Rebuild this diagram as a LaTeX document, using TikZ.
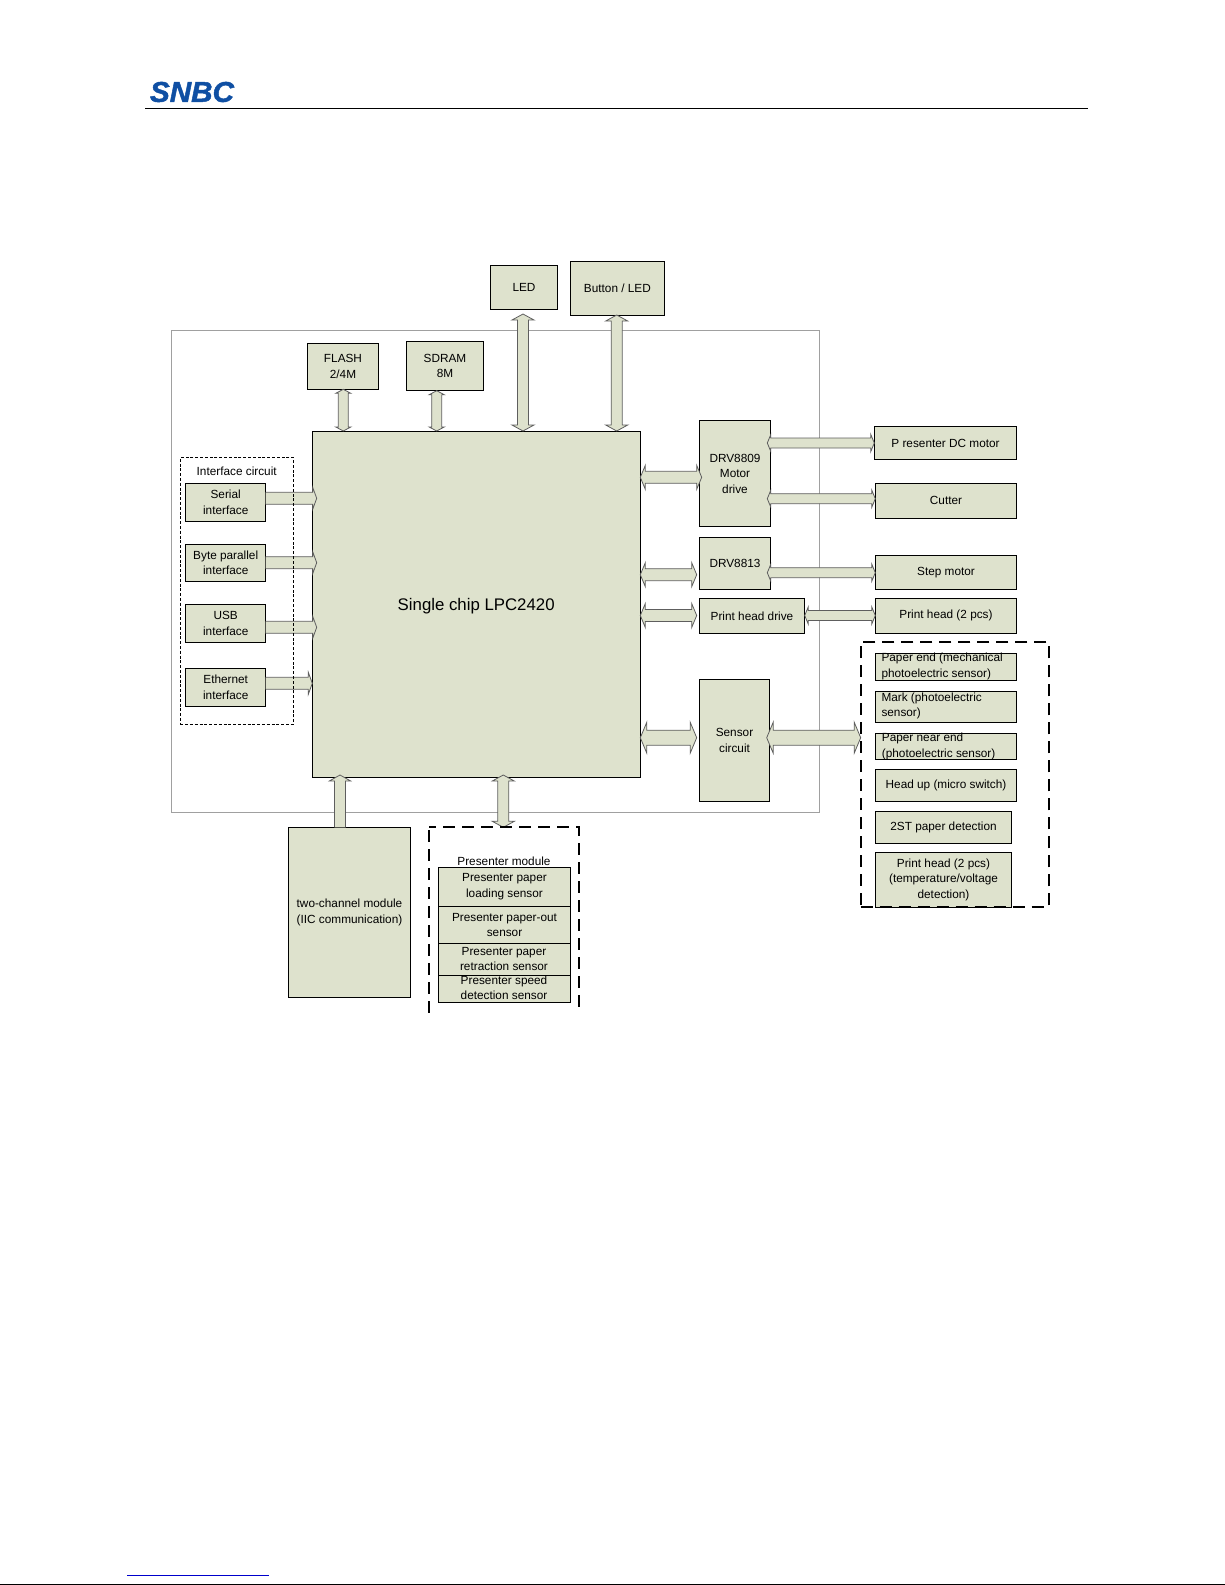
\documentclass[tikz,border=0pt]{standalone}
\usepackage{fontspec}
\usepackage{graphicx}
\setmainfont{Liberation Sans}
\newfontfamily\logofont[FakeBold=1.6]{Liberation Sans}
\usetikzlibrary{calc}
\definecolor{boxfill}{HTML}{DEE2CD}
\definecolor{logoblue}{HTML}{0F4FA3}
\definecolor{framegray}{HTML}{A0A0A0}
\definecolor{arrowline}{HTML}{5E5E5E}
\tikzset{
  x=1pt,y=-1pt,
  box/.style={draw=black,line width=1pt,fill=boxfill,inner sep=0pt,outer sep=0pt,align=center,
    font=\fontsize{11.8}{15.5}\selectfont},
  lbl/.style={inner sep=0pt,align=center,font=\fontsize{11.8}{15.5}\selectfont},
  lbll/.style={inner sep=0pt,align=left,anchor=west,font=\fontsize{11.8}{15.5}\selectfont},
  twohead/.style n args={3}{draw=arrowline,line width=0.8pt,fill=boxfill,line join=miter,
    to path={
      -- ($(\tikztostart)!#3!(\tikztotarget)!#2!90:(\tikztotarget)$)
      -- ($(\tikztostart)!#3!(\tikztotarget)!#1!90:(\tikztotarget)$)
      -- ($(\tikztotarget)!#3!(\tikztostart)!#1!-90:(\tikztostart)$)
      -- ($(\tikztotarget)!#3!(\tikztostart)!#2!-90:(\tikztostart)$)
      -- (\tikztotarget)
      -- ($(\tikztotarget)!#3!(\tikztostart)!#2!90:(\tikztostart)$)
      -- ($(\tikztotarget)!#3!(\tikztostart)!#1!90:(\tikztostart)$)
      -- ($(\tikztostart)!#3!(\tikztotarget)!#1!-90:(\tikztotarget)$)
      -- ($(\tikztostart)!#3!(\tikztotarget)!#2!-90:(\tikztotarget)$)
      -- cycle}},
  onehead/.style n args={3}{draw=arrowline,line width=0.8pt,fill=boxfill,line join=miter,
    to path={
      ($(\tikztostart)!#1!90:(\tikztotarget)$)
      -- ($(\tikztotarget)!#3!(\tikztostart)!#1!-90:(\tikztostart)$)
      -- ($(\tikztotarget)!#3!(\tikztostart)!#2!-90:(\tikztostart)$)
      -- (\tikztotarget)
      -- ($(\tikztotarget)!#3!(\tikztostart)!#2!90:(\tikztostart)$)
      -- ($(\tikztotarget)!#3!(\tikztostart)!#1!90:(\tikztostart)$)
      -- ($(\tikztostart)!#1!-90:(\tikztotarget)$)
      }},
  small/.style={twohead={5pt}{7.5pt}{4pt}},
  mid/.style={twohead={5.5pt}{11pt}{6pt}},
  horiz/.style={twohead={6pt}{12pt}{5pt}},
  wire/.style={twohead={5pt}{8.5pt}{3.5pt}},
  fat/.style={twohead={7.5pt}{15.5pt}{6.5pt}},
  iface/.style={onehead={6pt}{11pt}{4pt}},
  feed/.style={onehead={5.5pt}{10.7pt}{6pt}},
  heavydash/.style={draw=black,line width=2pt,dash pattern=on 12pt off 7pt},
  thindash/.style={draw=black,line width=0.8pt,dash pattern=on 3pt off 1.8pt},
}
\newcommand{\bx}[6]{%
  \pgfmathsetmacro{\bw}{#4-#2}\pgfmathsetmacro{\bh}{#5-#3}%
  \pgfmathsetmacro{\bcx}{(#4+#2)/2}\pgfmathsetmacro{\bcy}{(#5+#3)/2}%
  \node[box,minimum width=\bw pt,minimum height=\bh pt] (#1) at (\bcx,\bcy) {#6};}
\begin{document}
\begin{tikzpicture}
\useasboundingbox (0,0) rectangle (1225,1585);
% page furniture
\node[inner sep=0pt,text=logoblue] (logo) at (192,92) {\resizebox{84pt}{20pt}{\logofont\bfseries\itshape SNBC}};
\draw[black,line width=1pt] (145,108) coordinate (hl) -- (1088,108) coordinate (hr);
\draw[color={rgb,255:red,0;green,0;blue,204},line width=1pt] (127,1575) coordinate (bl) -- (269,1575) coordinate (br);
\draw[black,line width=1pt] (0,1584.5) coordinate (el) -- (1225,1584.5) coordinate (er);
% frame
\node[draw=framegray,line width=1pt,inner sep=0pt,minimum width=647.7pt,minimum height=481.6pt] (frame) at (495.15,571.5) {};
% boxes
\bx{chip}{312.3}{431}{640.3}{777.3}{}
\node[inner sep=0pt,font=\fontsize{16.8}{20}\selectfont] (chiplabel) at (476.2,606) {Single chip LPC2420};
\bx{led}{490.3}{265.3}{557.7}{309.3}{LED}
\bx{button}{570.3}{261}{664.5}{315}{Button / LED}
\bx{flash}{307.3}{343.3}{378.7}{389.3}{FLASH\\2/4M}
\bx{sdram}{406.3}{341.3}{483.7}{390.7}{SDRAM\\8M}
\bx{serial}{185.7}{483.3}{265.7}{521.3}{Serial\\interface}
\bx{byte}{185.7}{544.3}{265.7}{581.3}{Byte parallel\\interface}
\bx{usb}{185.7}{604.3}{265.7}{642.3}{USB\\interface}
\bx{ether}{185.7}{668.3}{265.7}{706.3}{Ethernet\\interface}
\bx{drvA}{699.3}{420.3}{770.7}{526.7}{DRV8809\\Motor\\drive}
\bx{drvB}{699.3}{537.3}{770.7}{589.7}{DRV8813}
\bx{phd}{699.3}{598.3}{804.7}{633.3}{Print head drive}
\bx{sensor}{699.3}{679.3}{769.7}{801.3}{Sensor\\circuit}
\bx{pdc}{874.3}{426.3}{1016.7}{459.7}{P resenter DC motor}
\bx{cutter}{875.3}{483.3}{1016.7}{518.3}{Cutter}
\bx{step}{875.3}{555.3}{1016.7}{589.7}{Step motor}
\bx{phead}{875.3}{598.3}{1016.7}{633.3}{Print head (2 pcs)}
\bx{pend}{875.3}{653.3}{1016.7}{680.3}{}
\bx{mark}{875.3}{691.3}{1016.7}{722.3}{}
\bx{near}{875.3}{733.3}{1016.7}{759.7}{}
\bx{headup}{875.3}{769.3}{1016.7}{801.3}{Head up (micro switch)}
\bx{st}{875.3}{811.7}{1011.7}{843.3}{2ST paper detection}
\bx{pht}{875.3}{852.7}{1011.7}{907}{Print head (2 pcs)\\(temperature/voltage\\detection)}
\bx{two}{288.3}{827.3}{410.7}{997.3}{two-channel module\\(IIC communication)}
\bx{pa}{438.3}{867.3}{570.7}{906.3}{Presenter paper\\loading sensor}
\bx{pb}{438.3}{906.3}{570.7}{943.3}{Presenter paper-out\\sensor}
\bx{pc}{438.3}{943.3}{570.7}{975.3}{}
\bx{pd}{438.3}{975.3}{570.7}{1002.3}{}
\node[lbll] (pendt) at (881.3,666.5) {Paper end (mechanical\\photoelectric sensor)};
\node[lbll] (markt) at (881.3,706) {Mark (photoelectric\\sensor)};
\node[lbll] (neart) at (881.7,746.3) {Paper near end\\(photoelectric sensor)};
\node[lbl] (pct) at (504,959) {Presenter paper\\retraction sensor};
\node[lbl] (pdt) at (504,987.7) {Presenter speed\\detection sensor};
\node[lbl] (ifl) at (236.7,471.7) {Interface circuit};
\node[lbl] (pml) at (504,861) {Presenter module};
% arrow rows
\coordinate (xflash) at (343.3,0);
\coordinate (xsdram) at (436.7,0);
\coordinate (xled) at (523,0);
\coordinate (xbtn) at (616.7,0);
\coordinate (xtwo) at (340,0);
\coordinate (xpm) at (503.3,0);
\coordinate (ya) at (0,477.3);
\coordinate (yb) at (0,443);
\coordinate (yc) at (0,498.7);
\coordinate (yd) at (0,574.7);
\coordinate (ye) at (0,572.7);
\coordinate (yf) at (0,615.5);
\coordinate (yg) at (0,737.7);
\coordinate (ys) at (0,498.3);
\coordinate (yp) at (0,562.7);
\coordinate (yu) at (0,627.3);
\coordinate (yt) at (0,683.3);
% arrows
\draw[small] (xflash |- flash.south) to (xflash |- chip.north);
\draw[small] (xsdram |- sdram.south) to (xsdram |- chip.north);
\coordinate (ledgap) at (xled |- 0,314);
\draw[mid] (ledgap) to (xled |- chip.north);
\draw[mid] (xbtn |- button.south) to (xbtn |- chip.north);
\draw[horiz] (chip.east |- ya) to ([xshift=2.4pt]drvA.west |- ya);
\draw[horiz] (chip.east |- yd) to ([xshift=-2.6pt]drvB.west |- yd);
\draw[horiz] (chip.east |- yf) to ([xshift=-2.6pt]phd.west |- yf);
\draw[wire] ([xshift=-3.4pt]drvA.east |- yb) to (pdc.west |- yb);
\draw[wire] ([xshift=-3.4pt]drvA.east |- yc) to (cutter.west |- yc);
\draw[wire] ([xshift=-3.4pt]drvB.east |- ye) to (step.west |- ye);
\draw[wire] (phd.east |- yf) to (phead.west |- yf);
\draw[fat] (chip.east |- yg) to ([xshift=-2.6pt]sensor.west |- yg);
\coordinate (bigleft) at (860.7,737.7);
\draw[fat] ([xshift=-3pt]sensor.east |- yg) to (bigleft);
\coordinate (sa) at (316.7,0);
\draw[iface] (serial.east |- ys) to (sa |- ys);
\draw[iface] (byte.east |- yp) to (sa |- yp);
\draw[iface] (usb.east |- yu) to (sa |- yu);
\draw[iface] (ether.east |- yt) to (chip.west |- yt);
\coordinate (chipbot) at (0,775);
\draw[feed] (xtwo |- two.north) to (xtwo |- chipbot);
\draw[mid] (xpm |- chipbot) to (xpm |- two.north);
% dashed groups
\node[thindash,inner sep=0pt,minimum width=113pt,minimum height=267pt] (ifgroup) at (236.8,590.8) {};
\node[heavydash,inner sep=0pt,minimum width=188.3pt,minimum height=265pt] (sensgroup) at (954.85,774.5) {};
\draw[heavydash,dash pattern=on 12pt off 7pt,dash phase=15.7pt] (429,826.7) -- (429,1013);
\draw[heavydash,dash pattern=on 12pt off 7pt,dash phase=5pt] (429,826.7) -- (578.7,826.7) -- (578.7,1007);
\end{tikzpicture}
\end{document}
